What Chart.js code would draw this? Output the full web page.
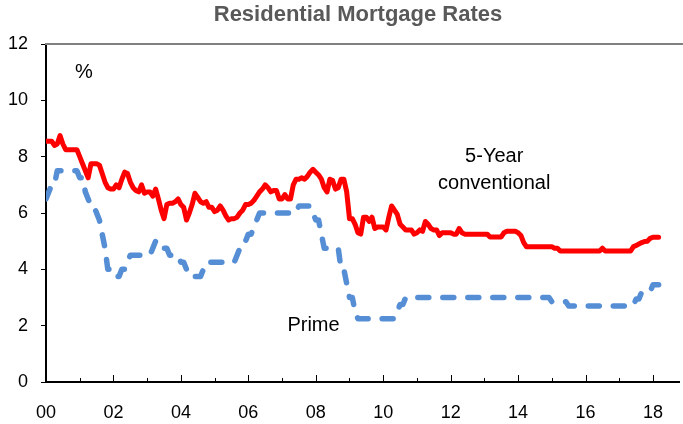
<!DOCTYPE html>
<html>
<head>
<meta charset="utf-8">
<script src="https://cdn.jsdelivr.net/npm/chart.js@4.4.1/dist/chart.umd.min.js"></script>
<style>
html,body{margin:0;padding:0;background:#ffffff;overflow:hidden}
#wrap{width:683px;height:424px;position:relative}
</style>
</head>
<body>
<div id="wrap"><canvas id="c" width="683" height="424"></canvas></div>
<script>
// ---- Data (monthly, Jan 2000 - Mar 2018) ----
const chartTitle = 'Residential Mortgage Rates';
const xTickLabels = ['00','02','04','06','08','10','12','14','16','18'];
const yTickValues = [0, 2, 4, 6, 8, 10, 12];
const seriesNames = ['5-Year conventional', 'Prime'];

const mortgage5yr = [
  // 2000
  8.55, 8.55, 8.55, 8.4, 8.45, 8.75, 8.45, 8.25, 8.25, 8.25, 8.25, 8.25,
  // 2001
  8.0, 7.75, 7.5, 7.25, 7.75, 7.75, 7.75, 7.7, 7.4, 7.1, 6.9, 6.85,
  // 2002
  6.85, 7.0, 6.9, 7.2, 7.45, 7.4, 7.1, 6.9, 6.8, 6.75, 7.0, 6.7,
  // 2003
  6.75, 6.75, 6.6, 6.85, 6.5, 6.1, 5.8, 6.3, 6.35, 6.35, 6.4, 6.5,
  // 2004
  6.3, 6.2, 5.75, 6.0, 6.3, 6.7, 6.55, 6.4, 6.35, 6.4, 6.2, 6.2,
  // 2005
  6.05, 6.1, 6.25, 6.1, 5.9, 5.75, 5.8, 5.8, 5.85, 6.0, 6.1, 6.3,
  // 2006
  6.3, 6.35, 6.45, 6.6, 6.75, 6.85, 7.0, 6.9, 6.75, 6.8, 6.8, 6.5,
  // 2007
  6.5, 6.65, 6.5, 6.5, 7.0, 7.2, 7.2, 7.25, 7.2, 7.3, 7.45, 7.55,
  // 2008
  7.45, 7.35, 7.2, 6.9, 6.75, 7.2, 7.15, 6.85, 6.9, 7.2, 7.2, 6.75,
  // 2009
  5.8, 5.8, 5.6, 5.3, 5.25, 5.85, 5.85, 5.7, 5.85, 5.45, 5.5, 5.5,
  // 2010
  5.5, 5.4, 5.85, 6.25, 6.1, 5.95, 5.6, 5.5, 5.4, 5.4, 5.4, 5.25,
  // 2011
  5.3, 5.4, 5.35, 5.7, 5.6, 5.45, 5.4, 5.4, 5.2, 5.3, 5.3, 5.3,
  // 2012
  5.3, 5.25, 5.25, 5.45, 5.3, 5.25, 5.25, 5.25, 5.25, 5.25, 5.25, 5.25,
  // 2013
  5.25, 5.25, 5.15, 5.15, 5.15, 5.15, 5.15, 5.3, 5.35, 5.35, 5.35, 5.35,
  // 2014
  5.3, 5.2, 4.95, 4.8, 4.8, 4.8, 4.8, 4.8, 4.8, 4.8, 4.8, 4.8,
  // 2015
  4.8, 4.75, 4.75, 4.65, 4.65, 4.65, 4.65, 4.65, 4.65, 4.65, 4.65, 4.65,
  // 2016
  4.65, 4.65, 4.65, 4.65, 4.65, 4.65, 4.75, 4.65, 4.65, 4.65, 4.65, 4.65,
  // 2017
  4.65, 4.65, 4.65, 4.65, 4.65, 4.8, 4.85, 4.9, 4.95, 4.99, 5.0, 5.1,
  // 2018
  5.14, 5.14, 5.14
];

const primeRate = [
  // 2000
  6.5, 6.75, 7.0, 7.0, 7.5, 7.5, 7.5, 7.5, 7.5, 7.5, 7.5, 7.5,
  // 2001
  7.25, 7.25, 6.75, 6.5, 6.25, 6.25, 6.0, 5.75, 5.25, 4.75, 4.0, 4.0,
  // 2002
  3.75, 3.75, 3.75, 4.0, 4.0, 4.25, 4.5, 4.5, 4.5, 4.5, 4.5, 4.5,
  // 2003
  4.5, 4.5, 4.75, 5.0, 5.0, 5.0, 4.75, 4.75, 4.5, 4.5, 4.5, 4.5,
  // 2004
  4.25, 4.25, 4.0, 3.75, 3.75, 3.75, 3.75, 3.75, 4.0, 4.25, 4.25, 4.25,
  // 2005
  4.25, 4.25, 4.25, 4.25, 4.25, 4.25, 4.25, 4.25, 4.5, 4.75, 4.75, 5.0,
  // 2006
  5.25, 5.25, 5.5, 5.75, 6.0, 6.0, 6.0, 6.0, 6.0, 6.0, 6.0, 6.0,
  // 2007
  6.0, 6.0, 6.0, 6.0, 6.0, 6.0, 6.25, 6.25, 6.25, 6.25, 6.25, 6.0,
  // 2008
  5.75, 5.75, 5.25, 4.75, 4.75, 4.75, 4.75, 4.75, 4.75, 4.0, 4.0, 3.5,
  // 2009
  3.0, 3.0, 2.5, 2.25, 2.25, 2.25, 2.25, 2.25, 2.25, 2.25, 2.25, 2.25,
  // 2010
  2.25, 2.25, 2.25, 2.25, 2.25, 2.5, 2.75, 2.75, 3.0, 3.0, 3.0, 3.0,
  // 2011
  3.0, 3.0, 3.0, 3.0, 3.0, 3.0, 3.0, 3.0, 3.0, 3.0, 3.0, 3.0,
  // 2012
  3.0, 3.0, 3.0, 3.0, 3.0, 3.0, 3.0, 3.0, 3.0, 3.0, 3.0, 3.0,
  // 2013
  3.0, 3.0, 3.0, 3.0, 3.0, 3.0, 3.0, 3.0, 3.0, 3.0, 3.0, 3.0,
  // 2014
  3.0, 3.0, 3.0, 3.0, 3.0, 3.0, 3.0, 3.0, 3.0, 3.0, 3.0, 3.0,
  // 2015
  2.85, 2.85, 2.85, 2.85, 2.85, 2.85, 2.7, 2.7, 2.7, 2.7, 2.7, 2.7,
  // 2016
  2.7, 2.7, 2.7, 2.7, 2.7, 2.7, 2.7, 2.7, 2.7, 2.7, 2.7, 2.7,
  // 2017
  2.7, 2.7, 2.7, 2.7, 2.7, 2.7, 2.95, 2.95, 3.2, 3.2, 3.2, 3.2,
  // 2018
  3.45, 3.45, 3.45
];

// ---- Chart ----
const FONT = "'Liberation Sans', Arial, sans-serif";

const toPoints = arr => arr.map((v, i) => ({ x: i, y: v }));

const decor = {
  id: 'decor',
  afterDraw(chart) {
    const { ctx, chartArea: a, scales: { x, y } } = chart;
    ctx.save();
    // top frame line (gray)
    ctx.strokeStyle = '#808080';
    ctx.lineWidth = 2;
    ctx.beginPath();
    ctx.moveTo(a.left - 1, a.top);
    ctx.lineTo(chart.width, a.top);
    ctx.stroke();
    // inward x-axis tick marks
    ctx.strokeStyle = '#000000';
    ctx.lineWidth = 1;
    x.ticks.forEach(t => {
      if (t.value <= x.min) return;
      const px = Math.round(x.getPixelForValue(t.value)) + 0.5;
      const len = (t.value % 24 === 0) ? 7 : 4;
      ctx.beginPath();
      ctx.moveTo(px, a.bottom);
      ctx.lineTo(px, a.bottom - len);
      ctx.stroke();
    });
    // title
    ctx.fillStyle = '#595959';
    ctx.font = "bold 22px " + FONT;
    ctx.textAlign = 'center';
    ctx.textBaseline = 'middle';
    ctx.fillText(chartTitle, 358, 15);
    // annotations
    ctx.fillStyle = '#000000';
    ctx.font = "20px " + FONT;
    ctx.fillText('%', x.getPixelForValue(13.5), y.getPixelForValue(11.0));
    ctx.fillText('5-Year', x.getPixelForValue(159.5), y.getPixelForValue(8.0));
    ctx.fillText('conventional', x.getPixelForValue(159.5), y.getPixelForValue(7.05));
    ctx.fillText('Prime', x.getPixelForValue(95.2), y.getPixelForValue(2.0));
    ctx.restore();
  }
};

new Chart(document.getElementById('c'), {
  type: 'line',
  data: {
    datasets: [
      {
        label: seriesNames[0],
        data: toPoints(mortgage5yr),
        borderColor: '#FF0000',
        borderWidth: 5,
        pointRadius: 0,
        tension: 0,
        borderJoinStyle: 'round',
        borderCapStyle: 'round',
        fill: false
      },
      {
        label: seriesNames[1],
        data: toPoints(primeRate),
        borderColor: '#558ED5',
        borderWidth: 5.5,
        borderDash: [11, 14],
        borderCapStyle: 'round',
        borderJoinStyle: 'round',
        pointRadius: 0,
        tension: 0,
        fill: false
      }
    ]
  },
  options: {
    responsive: false,
    animation: false,
    devicePixelRatio: 1,
    layout: { padding: { top: 44, right: 0, left: 0, bottom: 0 } },
    plugins: {
      legend: { display: false },
      tooltip: { enabled: false },
      title: { display: false }
    },
    scales: {
      x: {
        type: 'linear',
        min: 0,
        max: 225.5,
        afterFit: s => { s.height = 42; },
        border: { display: true, color: '#000000', width: 2 },
        grid: { display: true, drawOnChartArea: false, drawTicks: false, color: '#000000' },
        ticks: {
          stepSize: 12,
          includeBounds: false,
          autoSkip: false,
          maxRotation: 0,
          padding: 20,
          color: '#000000',
          font: { family: FONT, size: 18 },
          callback: v => (v % 24 === 0 ? (xTickLabels[v / 24] ?? '') : '')
        }
      },
      y: {
        type: 'linear',
        min: 0,
        max: 12,
        afterFit: s => { s.width = 46; },
        afterBuildTicks: s => { s.ticks = yTickValues.map(v => ({ value: v })); },
        border: { display: true, color: '#000000', width: 2 },
        grid: { display: true, drawOnChartArea: false, drawTicks: true, tickLength: 5, color: '#000000', lineWidth: 1 },
        ticks: {
          padding: 13,
          color: '#000000',
          font: { family: FONT, size: 18 },
          callback: v => String(v)
        }
      }
    }
  },
  plugins: [decor]
});
</script>
</body>
</html>
